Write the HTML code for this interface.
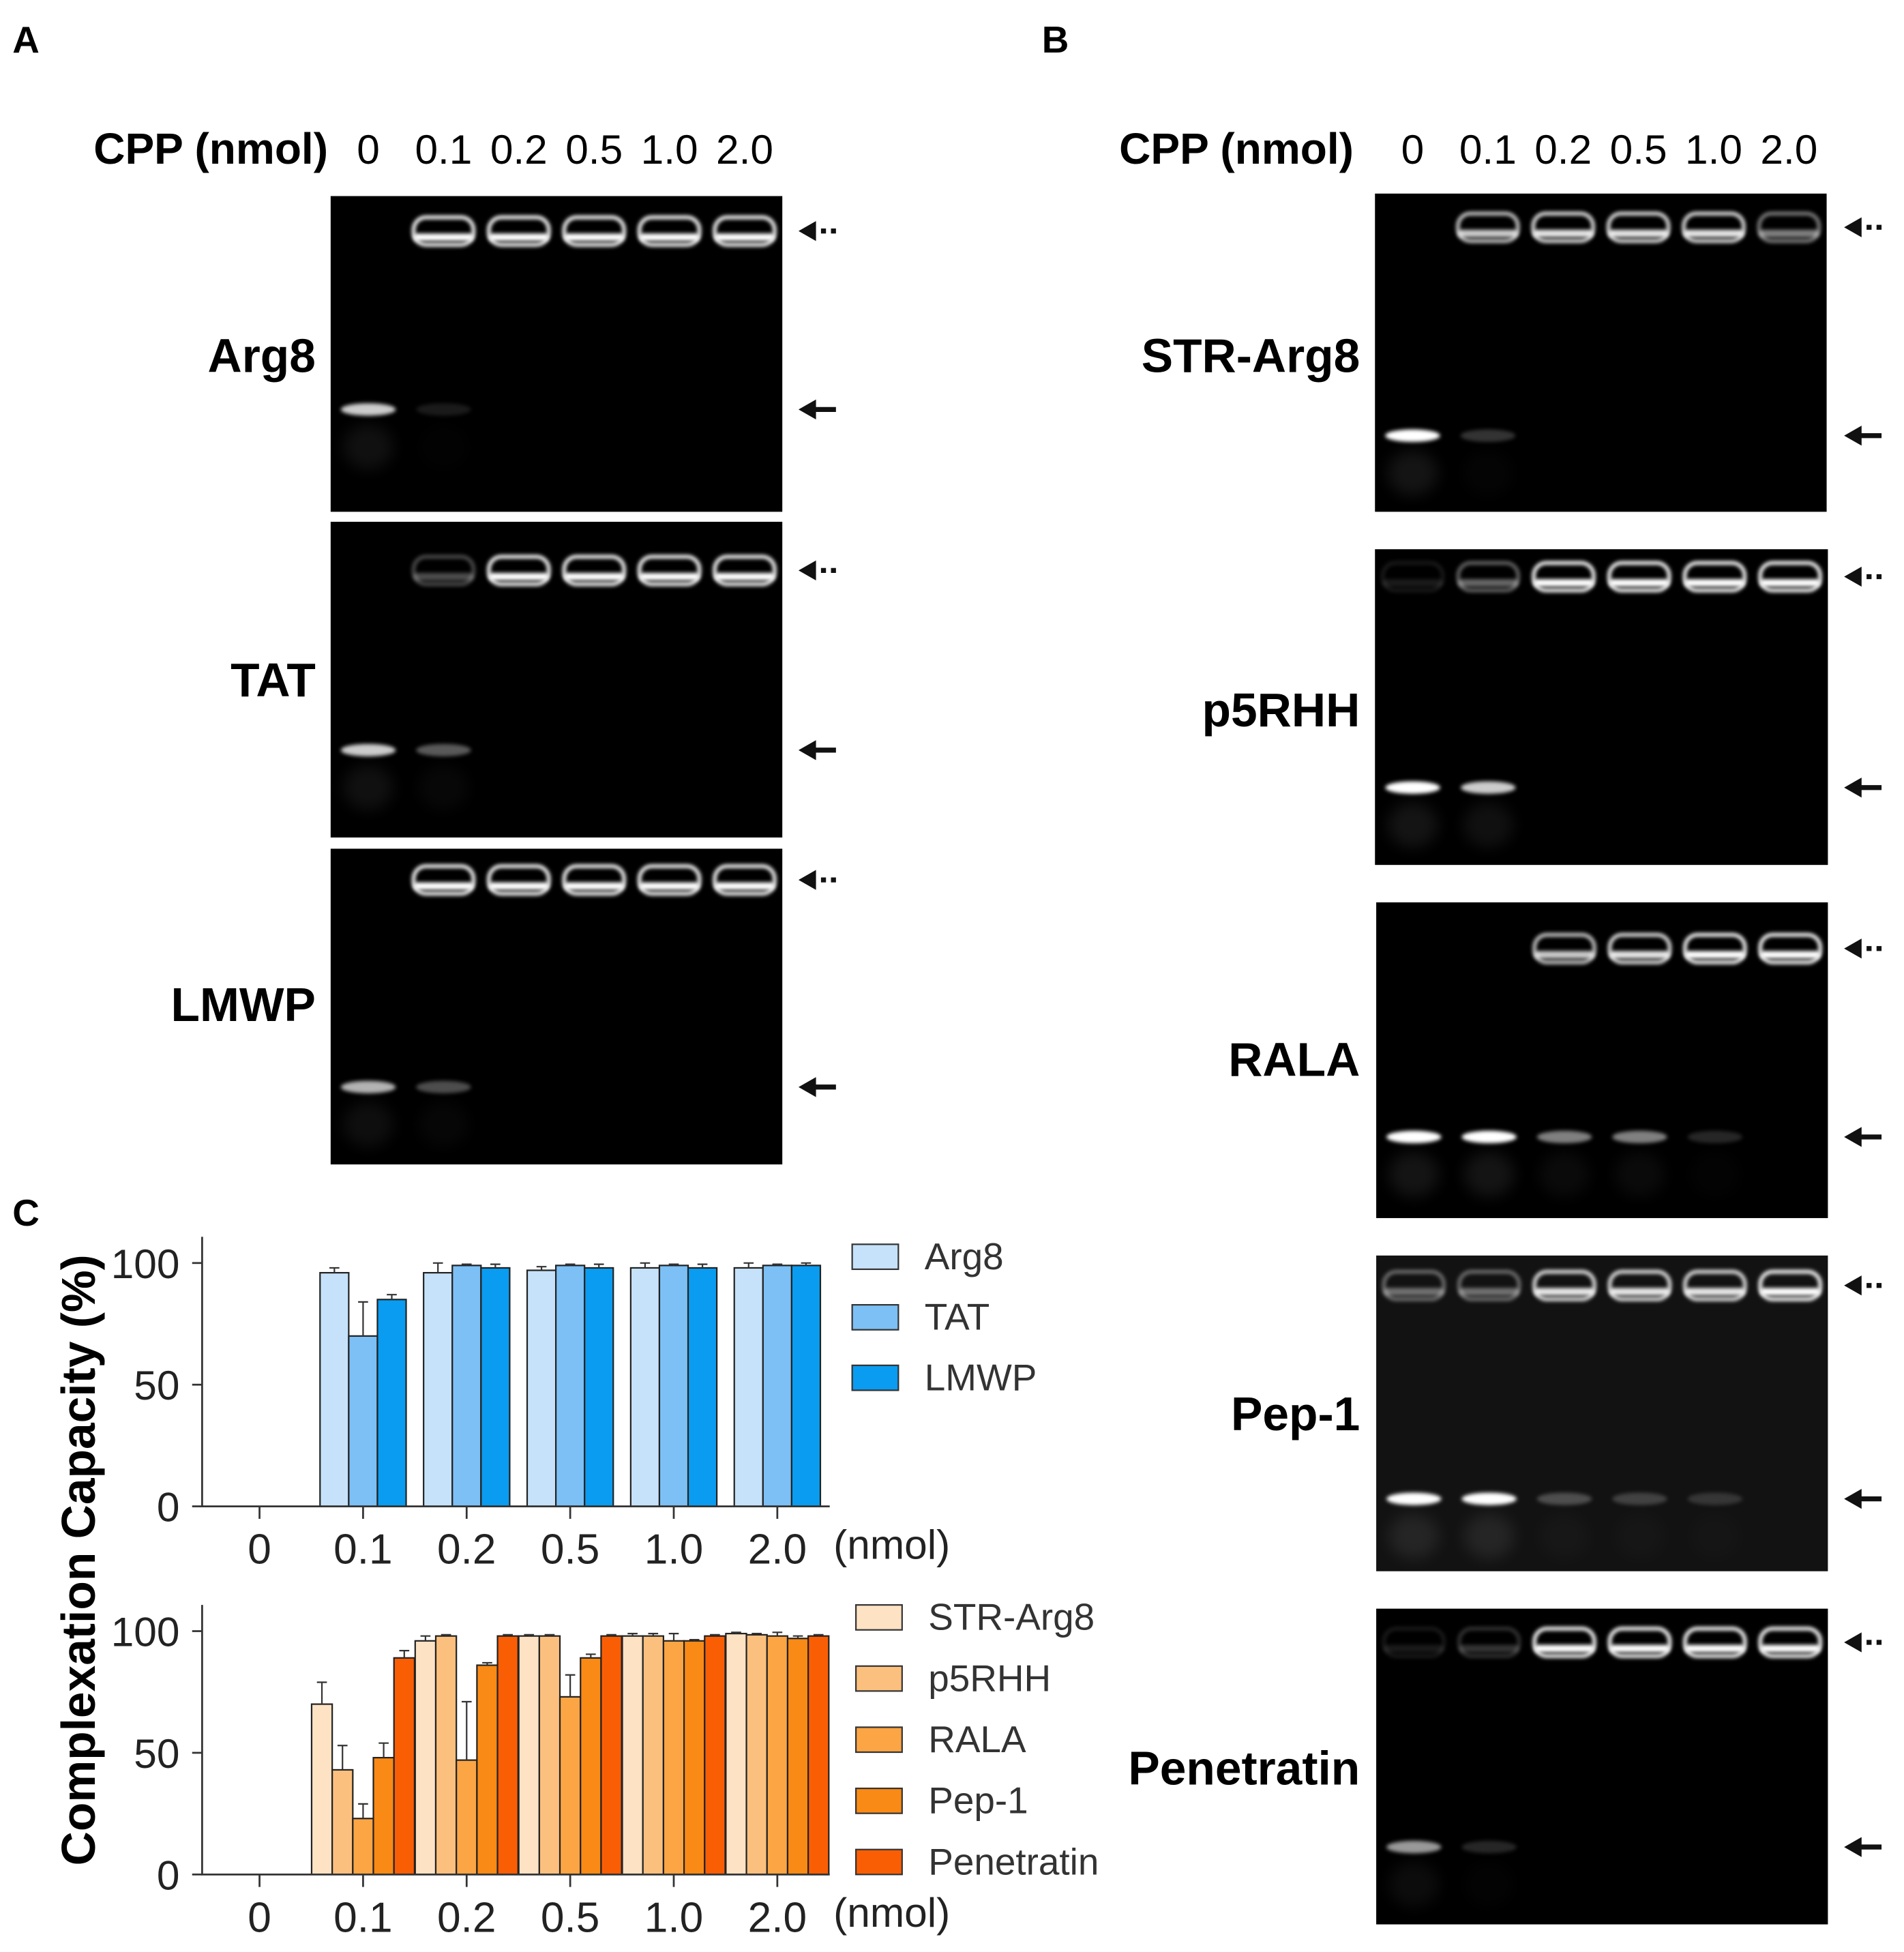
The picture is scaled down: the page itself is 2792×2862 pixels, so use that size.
<!DOCTYPE html>
<html><head><meta charset="utf-8"><style>
html,body{margin:0;padding:0;background:#fff}
svg{display:block;font-family:"Liberation Sans",sans-serif}
</style></head><body>
<svg id="fig" xmlns="http://www.w3.org/2000/svg" width="2792" height="2862" viewBox="0 0 1526 1564">
<defs>
<filter id="blur" x="-50%" y="-50%" width="200%" height="200%"><feGaussianBlur stdDeviation="1.6"/></filter>
<filter id="blur2" x="-50%" y="-50%" width="200%" height="200%"><feGaussianBlur stdDeviation="6"/></filter>
</defs>
<g font-weight="bold" font-size="30">
<text x="10" y="42">A</text>
<text x="835" y="42">B</text>
<text x="10" y="982">C</text>
</g>
<g id="gels"></g>
<g id="chartTop"></g>
<g id="chartBot"></g>
<text transform="translate(76,1250) rotate(-90)" text-anchor="middle" font-size="38" font-weight="bold">Complexation Capacity (%)</text>
</svg>
<script>
const NS='http://www.w3.org/2000/svg';
function mk(parent,tag,attrs,txt){const e=document.createElementNS(NS,tag);for(const k in attrs)e.setAttribute(k,attrs[k]);if(txt!==undefined)e.textContent=txt;parent.appendChild(e);return e;}

// ---------- Chart data ----------
const categories=['0','0.1','0.2','0.5','1.0','2.0'];
const topSeriesNames=['Arg8','TAT','LMWP'];
const arg8Values=[0,96,96,97,98,98];
const tatValues=[0,70,99,99,99,99];
const lmwpValues=[0,85,98,98,98,99];
const arg8Err=[0,2,4,1.5,2,2];
const tatErr=[0,14,0.5,0.5,0.5,0.5];
const lmwpErr=[0,2,1.5,1.5,1.5,1];
const botSeriesNames=['STR-Arg8','p5RHH','RALA','Pep-1','Penetratin'];
const strValues=[0,70,96,98,98,99];
const p5rhhValues=[0,43,98,98,98,98.5];
const ralaValues=[0,23,47,73,96,98];
const pep1Values=[0,48,86,89,96,97];
const penValues=[0,89,98,98,98,98];
const strErr=[0,9,2,0.5,1,0.5];
const p5rhhErr=[0,10,0.5,0.5,1,0.5];
const ralaErr=[0,6,24,9,3,1.5];
const pep1Err=[0,6,1,1.5,0.5,1];
const penErr=[0,3,0.5,0.5,0.5,0.5];
const yTicks=[0,50,100];

function drawChart(g,opt){
  const x0=162,x1=665,cat0=208,step=83;
  const y=v=>opt.yBase-(opt.yBase-opt.y100)*v/100;
  const xc=i=>cat0+i*step;
  const n=opt.series.length,bw=opt.bw;
  opt.series.forEach((vals,s)=>{
    vals.forEach((v,i)=>{
      if(v<=0)return;
      const bx=xc(i)-n*bw/2+s*bw;
      const r=mk(g,'rect',{x:bx,y:y(v),width:bw,height:opt.yBase-y(v),fill:opt.colors[s],stroke:'#222','stroke-width':1.2});
      
      
      const e=opt.errs[s][i];
      const l=mk(g,'path',{d:`M${bx+bw/2},${y(v)} V${y(v+e)} M${bx+bw/2-4},${y(v+e)} H${bx+bw/2+4}`,stroke:'#333','stroke-width':1.2,fill:'none'});
      
      
    });
  });
  const ax=mk(g,'path',{d:`M${x0},${opt.yBase-216} V${opt.yBase} H${x1}`,stroke:'#333','stroke-width':1.5,fill:'none'});
  
  
  yTicks.forEach(t=>{
    mk(g,'line',{x1:x0-8,x2:x0,y1:y(t),y2:y(t),stroke:'#333','stroke-width':1.5});
    const tl=mk(g,'text',{x:x0-18,y:y(t)+12,'text-anchor':'end','font-size':33,fill:'#222'},String(t));
    
    
  });
  categories.forEach((c,i)=>{
    mk(g,'line',{x1:xc(i),x2:xc(i),y1:opt.yBase,y2:opt.yBase+10,stroke:'#333','stroke-width':1.5});
    const tl=mk(g,'text',{x:xc(i),y:opt.yBase+46,'text-anchor':'middle','font-size':34,fill:'#222'},c);
    
    
  });
  const u=mk(g,'text',{x:668,y:opt.yBase+42,'font-size':33,fill:'#222'},'(nmol)');
  
  
  opt.names.forEach((nm,s)=>{
    const ly=opt.legY+s*opt.legStep;
    const lr=mk(g,'rect',{x:opt.legX,y:ly-10,width:37,height:20,fill:opt.colors[s],stroke:'#333','stroke-width':1.2});
    
    
    const lt=mk(g,'text',{x:opt.legX+58,y:ly+10,'font-size':30,fill:'#333'},nm);
    
    
  });
}
drawChart(document.getElementById('chartTop'),{yBase:1207,y100:1012,bw:23,
  series:[arg8Values,tatValues,lmwpValues],errs:[arg8Err,tatErr,lmwpErr],names:topSeriesNames,
  colors:['#c6e2fa','#7cc0f5','#0a9cf0'],legX:683,legY:1007,legStep:48.5});
drawChart(document.getElementById('chartBot'),{yBase:1502,y100:1307,bw:16.5,
  series:[strValues,p5rhhValues,ralaValues,pep1Values,penValues],errs:[strErr,p5rhhErr,ralaErr,pep1Err,penErr],names:botSeriesNames,
  colors:['#fde2c4','#fcc07e','#fba544','#f98a15','#fa5e05'],legX:686,legY:1296,legStep:49});

// ---------- Gels ----------
const gelNames=['Arg8','TAT','LMWP','STR-Arg8','p5RHH','RALA','Pep-1','Penetratin'];
const gels=[
 {x:265,y:157,w:362,h:253,up:185,lo:328,u:[0,1,1,1,1,1],l:[0.8,0.1,0,0,0,0],lx:253,ly:298,ax:640,bg:'#000'},
 {x:265,y:418,w:362,h:253,up:457,lo:601,u:[0,0.3,1,1,1,1],l:[0.8,0.35,0,0,0,0],lx:253,ly:558,ax:640,bg:'#000'},
 {x:265,y:680,w:362,h:253,up:705,lo:871,u:[0,1,1,1,1,1],l:[0.7,0.3,0,0,0,0],lx:253,ly:818,ax:640,bg:'#000'},
 {x:1102,y:155,w:362,h:255,up:182,lo:349,u:[0,0.8,0.9,0.9,0.9,0.5],l:[1,0.2,0,0,0,0],lx:1090,ly:298,ax:1478,bg:'#000'},
 {x:1102,y:440,w:363,h:253,up:462,lo:631,u:[0.1,0.4,1,1,1,1],l:[1,0.8,0,0,0,0],lx:1090,ly:582,ax:1478,bg:'#000'},
 {x:1103,y:723,w:362,h:253,up:760,lo:911,u:[0,0,0.8,0.9,1,1],l:[1,1,0.5,0.5,0.15,0],lx:1090,ly:862,ax:1478,bg:'#000'},
 {x:1103,y:1006,w:362,h:253,up:1030,lo:1201,u:[0.4,0.4,0.9,0.9,0.9,1],l:[1,1,0.25,0.2,0.15,0],lx:1090,ly:1146,ax:1478,bg:'#121212'},
 {x:1103,y:1289,w:362,h:253,up:1316,lo:1480,u:[0.1,0.2,1,1,1,1],l:[0.6,0.15,0,0,0,0],lx:1090,ly:1430,ax:1478,bg:'#000'}
];
const G=document.getElementById('gels');
gels.forEach((gl,k)=>{
  const g=mk(G,'g',{});
  
  
  mk(g,'rect',{x:gl.x,y:gl.y,width:gl.w,height:gl.h,fill:gl.bg});
  const lane=gl.w/6;
  for(let i=0;i<6;i++){
    const cx=gl.x+lane*(i+0.5);
    const a=gl.u[i];
    if(a>0){
      mk(g,'rect',{x:cx-24,y:gl.up-11,width:48,height:22,rx:10,fill:'none',stroke:'#fff','stroke-width':3,opacity:a,filter:'url(#blur)'});
      mk(g,'rect',{x:cx-24,y:gl.up+2,width:48,height:6,rx:3,fill:'#fff',opacity:a,filter:'url(#blur)'});
    }
    const b=gl.l[i];
    if(b>0){
      mk(g,'ellipse',{cx:cx,cy:gl.lo,rx:22,ry:5,fill:'#fff',opacity:b,filter:'url(#blur)'});
      mk(g,'ellipse',{cx:cx,cy:gl.lo+30,rx:20,ry:18,fill:'#fff',opacity:0.08*b,filter:'url(#blur2)'});
    }
  }
  const nm=mk(g,'text',{x:gl.lx,y:gl.ly,'text-anchor':'end','font-size':38,'font-weight':'bold'},gelNames[k]);
  
  
  const a1=mk(g,'path',{d:`M${gl.ax},${gl.up} l14,-8 v16 z M${gl.ax+18},${gl.up-2} h4 v4 h-4 z M${gl.ax+26},${gl.up-2} h4 v4 h-4 z`,fill:'#111'});
  
  
  const a2=mk(g,'path',{d:`M${gl.ax},${gl.lo} l14,-8 v6 h16 v4 h-16 v6 z`,fill:'#111'});
  
  
});
const doseLabels=['0','0.1','0.2','0.5','1.0','2.0'];
[[75,265,362],[897,1102,362]].forEach((h,k)=>{
  const t=mk(G,'text',{x:h[0],y:131,'font-size':35,'font-weight':'bold'},'CPP (nmol)');
  
  
  doseLabels.forEach((d,i)=>{
    const tt=mk(G,'text',{x:h[1]+h[2]/6*(i+0.5),y:131,'font-size':33,'text-anchor':'middle'},d);
    
    
  });
});
</script>
</body></html>
